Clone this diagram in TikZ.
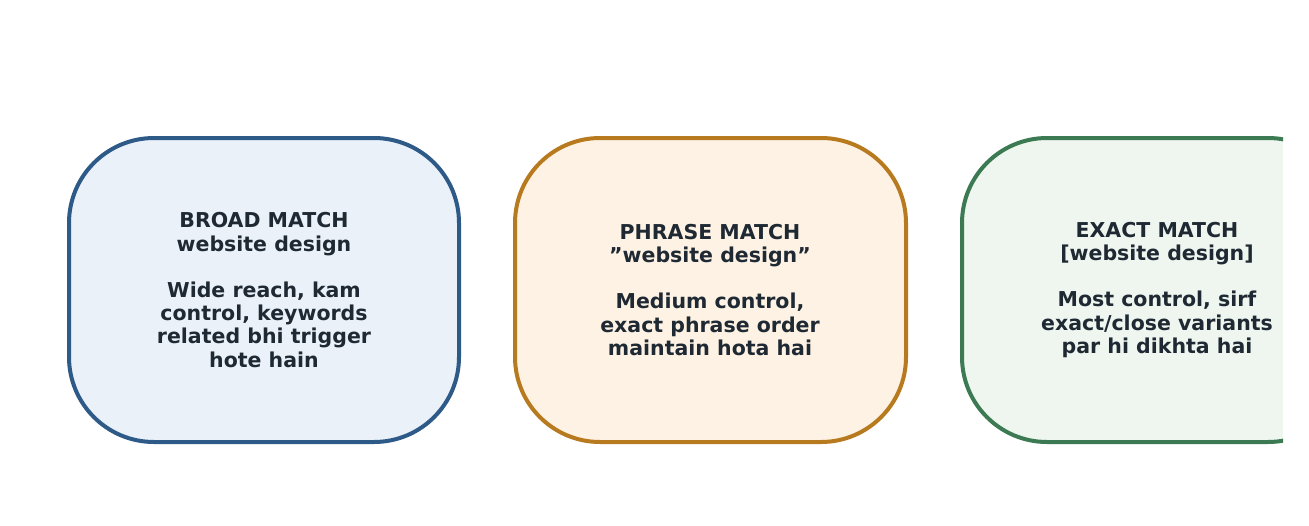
\documentclass[tikz,border=0pt]{standalone}
\usepackage{fontspec}
\setmainfont{DejaVu Sans}
\begin{document}
\begin{tikzpicture}[x=1pt,y=-1pt,
  box/.style={rounded corners=85pt, line width=4pt},
  lbl/.style={align=center, font=\bfseries\fontsize{20.5}{23.3}\selectfont, text=txt}]
\definecolor{txt}{HTML}{1F2933}
\definecolor{b1}{HTML}{2E5A88}\definecolor{f1}{HTML}{EAF1F9}
\definecolor{b2}{HTML}{B87A1E}\definecolor{f2}{HTML}{FDF2E3}
\definecolor{b3}{HTML}{3B7A53}\definecolor{f3}{HTML}{EFF6EF}
\useasboundingbox (0,0) rectangle (1309,525);
\begin{scope}
\clip (0,0) rectangle (1283,525);
\draw[box, draw=b1, fill=f1] (69,138) rectangle (459,442);
\draw[box, draw=b2, fill=f2] (515,138) rectangle (906,442);
\draw[box, draw=b3, fill=f3] (962,138) rectangle (1353,442);
\end{scope}
\node[lbl] (a) at (264,290) {BROAD MATCH\\website design\\[23pt]Wide reach, kam\\control, keywords\\related bhi trigger\\hote hain};
\node[lbl] (b) at (710,290) {PHRASE MATCH\\\symbol{34}website design\symbol{34}\\[23pt]Medium control,\\exact phrase order\\maintain hota hai};
\node[lbl] (c) at (1157,290) {EXACT MATCH\\{[website design]}\\[23pt]Most control, sirf\\exact/close variants\\par hi dikhta hai};
\end{tikzpicture}
\end{document}
